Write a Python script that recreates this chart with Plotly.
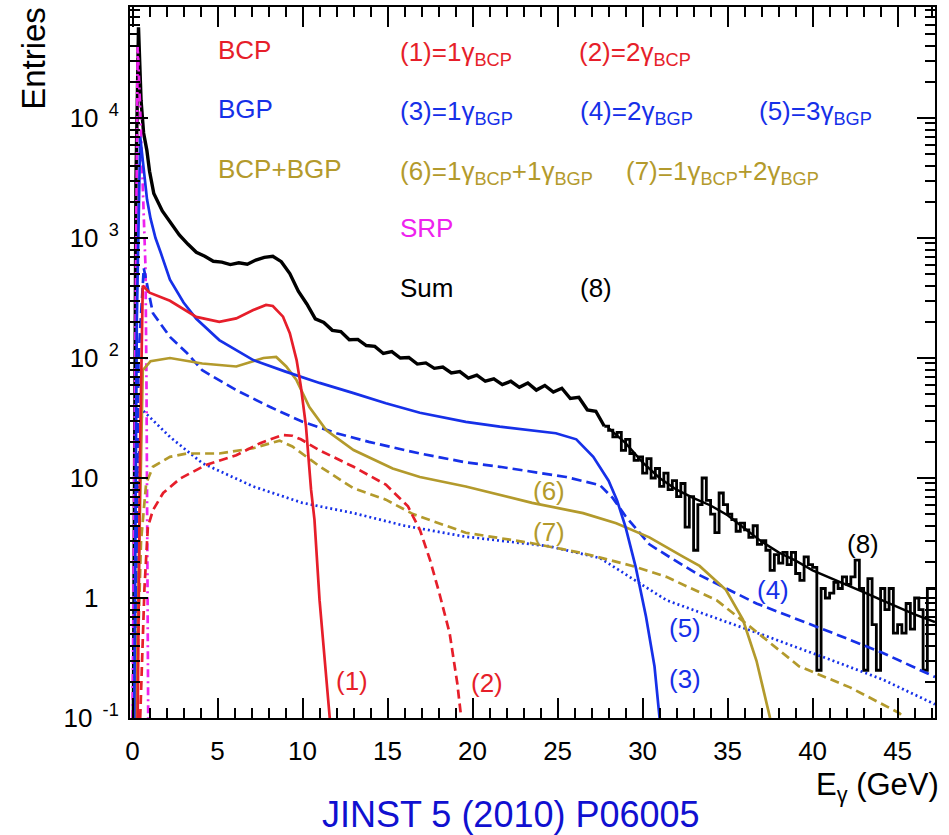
import plotly.graph_objects as go

# ---------------- data ----------------
bcp1_x = [0.3, 0.45, 0.6, 1.0, 2.2, 3.75, 5.1, 6.1, 7.1, 7.85, 8.25, 8.85, 9.25, 9.65, 9.9, 10.2, 10.5, 10.7, 11.0, 11.6]
bcp1_y = [0.1, 20, 400, 350, 300, 220, 200, 214, 251, 277, 271, 221, 161, 96, 58, 27, 8.0, 4.5, 0.96, 0.1]

bcp2_x = [0.45, 0.7, 0.9, 1.2, 1.8, 2.8, 4.3, 6.1, 7.5, 8.8, 9.4, 9.9, 11.0, 13.0, 14.9, 16.2, 16.9, 17.5, 18.05, 18.65, 19.1, 19.3]
bcp2_y = [0.1, 1.2, 3.9, 5.4, 7.5, 9.9, 12.8, 15.5, 19.5, 22.8, 22.5, 21, 17, 12.4, 8.8, 5.8, 3.7, 2.07, 1.09, 0.51, 0.195, 0.11]

bgp1_x = [0.1, 0.25, 0.45, 0.64, 0.85, 1.06, 1.35, 1.65, 2.2, 3.0, 3.75, 5.1, 7.1, 9.0, 11.0, 13.0, 14.9, 16.9, 19.6, 21.6, 24.9, 26.1, 27.1, 28.0, 28.5, 29.0, 29.6, 30.2, 30.7, 31.0]
bgp1_y = [0.1, 200, 7000, 3900, 2100, 1450, 1000, 760, 450, 290, 212, 141, 96, 77, 62, 51, 42, 35, 29.4, 26.8, 23.6, 21, 15, 9.5, 6.5, 3.9, 1.8, 0.7, 0.27, 0.1]

bgp2_x = [0.15, 0.35, 0.66, 1.2, 2.2, 3.2, 4.1, 6.1, 8.1, 10.0, 12.0, 13.9, 16.9, 19.6, 21.6, 25.5, 27.5, 28.25, 29.0, 30.4, 31.8, 33.35, 36.7, 39.2, 41.2, 44.1, 47.2]
bgp2_y = [0.1, 100, 560, 236, 150, 110, 79, 54, 39, 29.4, 23.6, 20, 16, 13.5, 12.4, 10.2, 8.7, 6.8, 4.8, 2.8, 2.1, 1.55, 0.9, 0.66, 0.51, 0.35, 0.22]

bgp3_x = [0.1, 0.3, 0.57, 2.2, 4.1, 7.1, 10.0, 13.0, 16.0, 19.6, 24.5, 27.5, 29.4, 31.4, 33.35, 37.3, 41.2, 44.1, 47.2]
bgp3_y = [0.1, 10, 37, 22, 13.3, 8.5, 6.2, 5.1, 4.0, 3.24, 2.7, 2.15, 1.45, 0.96, 0.76, 0.48, 0.30, 0.21, 0.13]

mix6_x = [0.2, 0.45, 0.6, 1.06, 2.2, 4.1, 6.1, 7.7, 8.45, 9.04, 9.63, 10.4, 11.4, 13.0, 15.3, 16.9, 19.6, 23.5, 26.5, 28.45, 30.4, 32.4, 33.35, 34.9, 35.9, 36.7, 37.5]
mix6_y = [0.1, 10, 79, 94, 100, 90, 85, 100, 102, 85, 66, 39, 25, 17.1, 12, 10.2, 8.5, 6.2, 5.1, 4.2, 3.2, 2.2, 1.85, 1.17, 0.66, 0.30, 0.1]

mix7_x = [0.2, 0.5, 0.8, 1.2, 2.2, 3.2, 5.1, 7.1, 8.65, 9.4, 11.0, 13.0, 14.9, 16.5, 19.6, 23.5, 26.5, 29.4, 31.4, 34.35, 36.3, 39.2, 42.2, 45.1, 45.4]
mix7_y = [0.1, 3, 9, 12.4, 15, 16, 16, 17.7, 20.5, 18.3, 12.5, 8.2, 6.6, 5.0, 3.5, 2.86, 2.36, 1.85, 1.5, 0.96, 0.58, 0.27, 0.18, 0.11, 0.1]

srp_x = [0.0, 0.15, 0.3, 0.43, 0.57, 0.66, 0.76, 0.82, 0.87, 0.92]
srp_y = [0.1, 100, 40000, 14000, 3900, 1500, 580, 60, 2, 0.1]

# Sum histogram ("Sum", (8))
sum_low_x = [0.05, 0.2, 0.35, 0.5, 0.65, 0.84, 1.0]     # sharp peak near 0
sum_low_vals = [0.1, 3000, 57000, 14000, 7500, 5400, 3600]
sum_mid_x = [1.25 + 0.5 * i for i in range(54)]      # 1.25 ... 27.75
sum_mid_vals = [2350, 1680, 1330, 1060, 890, 760, 705, 640, 630, 600, 622, 605, 655, 690, 705, 635,
                505, 360, 282, 212, 198, 170, 166, 142, 143, 127, 125, 109, 113, 100, 101, 89,
                91, 82, 84, 75, 77, 68, 72, 64, 67, 60, 64, 57, 62, 54, 59, 52,
                56, 46, 47, 37, 36, 27]
sum_high_edges = [28.0 + 0.25 * i for i in range(77)]  # 28.0 ... 47.0
sum_high_vals = [25, 22, 24, 17, 21, 16, 14, 15, 11, 14.5, 10, 12, 8.5, 11, 8, 9.5,
                 7, 9, 3.9, 7, 2.5, 6, 10, 6.5, 5, 3.5, 7.5, 6, 5, 4.5, 3.6, 4.2,
                 3.7, 3.2, 4, 2.8, 3, 2.5, 1.7, 2.3, 1.95, 2.4, 1.9, 2.4, 1.6, 1.4, 2.2, 1.9,
                 1.8, 0.25, 1.2, 1.0, 1.1, 1.35, 1.2, 1.5, 1.3, 1.5, 2.07, 1.2, 0.25, 1.45, 0.6, 0.25,
                 1.2, 0.8, 1.2, 0.51, 0.6, 0.51, 0.9, 0.55, 1.0, 0.8, 0.25, 1.2, 1.2]

fit_x = [28, 29, 30, 31, 32, 33, 34, 35, 36, 37, 38, 39, 40, 41, 42, 43, 44, 45, 46, 47.2]
fit_y = [26, 19.5, 13.5, 10, 8, 6.8, 5.9, 4.9, 3.8, 2.95, 2.4, 2.05, 1.7, 1.48, 1.3, 1.12, 0.97, 0.84, 0.73, 0.63]

y_tickvals = [0.1, 1, 10, 100, 1000, 10000]
NB = "\u00a0"
y_ticktext = ["10<sup>" + NB * 2 + "-1</sup>", "1<sup>" + NB * 4 + "</sup>", "10<sup>" + NB * 4 + "</sup>",
              "10<sup>" + NB * 2 + "2</sup>", "10<sup>" + NB * 2 + "3</sup>", "10<sup>" + NB * 2 + "4</sup>"]

# ---------------- style ----------------
FONT = "Liberation Sans, Arial, Helvetica, sans-serif"
RED = "#e61e2a"
BLUE = "#1630e8"
OLIVE = "#b39a2c"
MAGENTA = "#ee22ee"
BLACK = "#000000"

W, H = 949, 835
L, R, T, B = 130, 14, 5, 117
PW, PH = W - L - R, H - T - B


def px(xp):
    return (xp - L) / PW


def py(yp):
    return (H - B - yp) / PH


fig = go.Figure()

# Sum histogram: sharp low peak and dense middle drawn as a thick jagged line, high-energy bins as steps
mx = sum_low_x + sum_mid_x
my = sum_low_vals + sum_mid_vals
fig.add_trace(go.Scatter(x=mx, y=my, mode="lines", line=dict(color=BLACK, width=3.4), hoverinfo="skip"))
hx = [sum_mid_x[-1]] + sum_high_edges + [sum_high_edges[-1] + 0.25]
hy = [sum_mid_vals[-1]] + sum_high_vals + [sum_high_vals[-1]]
fig.add_trace(go.Scatter(x=hx, y=hy, mode="lines", line=dict(color=BLACK, width=2.8, shape="hv"), hoverinfo="skip"))
fig.add_trace(go.Scatter(x=fit_x, y=fit_y, mode="lines", line=dict(color=BLACK, width=2.4)))

curves = [
    (srp_x, srp_y, MAGENTA, "8px,4px,2px,4px"),
    (bgp3_x, bgp3_y, BLUE, "2px,3px"),
    (mix7_x, mix7_y, OLIVE, "9px,5px"),
    (bcp2_x, bcp2_y, RED, "9px,5px"),
    (bgp2_x, bgp2_y, BLUE, "10px,5px"),
    (mix6_x, mix6_y, OLIVE, "solid"),
    (bgp1_x, bgp1_y, BLUE, "solid"),
    (bcp1_x, bcp1_y, RED, "solid"),
]
for cx, cy, col, dash in curves:
    fig.add_trace(go.Scatter(x=cx, y=cy, mode="lines", line=dict(color=col, width=2.7, dash=dash)))

ann = []


def text(t, xp, yp, color, size=26, xanchor="left", **kw):
    ann.append(dict(text=t, x=px(xp), y=py(yp), xref="paper", yref="paper", showarrow=False,
                    xanchor=xanchor, yanchor="middle", font=dict(family=FONT, size=size, color=color), **kw))


text("BCP", 216, 48, RED)
text("BGP", 216, 107, BLUE)
text("BCP+BGP", 216, 167, OLIVE)
text("(1)=1γ<sub>BCP</sub>", 398, 52, RED)
text("(2)=2γ<sub>BCP</sub>", 577, 52, RED)
text("(3)=1γ<sub>BGP</sub>", 398, 111, BLUE)
text("(4)=2γ<sub>BGP</sub>", 578, 111, BLUE)
text("(5)=3γ<sub>BGP</sub>", 757, 111, BLUE)
text("(6)=1γ<sub>BCP</sub>+1γ<sub>BGP</sub>", 398, 171, OLIVE)
text("(7)=1γ<sub>BCP</sub>+2γ<sub>BGP</sub>", 624, 171, OLIVE)
text("SRP", 398, 227, MAGENTA)
text("Sum", 398, 287, BLACK)
text("(8)", 578, 287, BLACK)

text("(1)", 352, 681, RED, xanchor="center")
text("(2)", 487, 683, RED, xanchor="center")
text("(3)", 685, 679, BLUE, xanchor="center")
text("(4)", 773, 590, BLUE, xanchor="center")
text("(5)", 685, 628, BLUE, xanchor="center")
text("(6)", 549, 490, OLIVE, xanchor="center")
text("(7)", 549, 531, OLIVE, xanchor="center")
text("(8)", 863, 544, BLACK, xanchor="center")

text("Entries", 34, 57, BLACK, size=33, xanchor="center", textangle=-90)
text("E<sub>γ</sub> (GeV)", 941, 787, BLACK, size=31, xanchor="right")
text("JINST 5 (2010) P06005", 511, 815, "#1010d0", size=36, xanchor="center")

minor_y = [m * 10 ** e for e in range(-1, 5) for m in range(2, 10)]

fig.update_layout(
    width=W, height=H,
    margin=dict(l=L, r=R, t=T, b=B, pad=0),
    paper_bgcolor="white", plot_bgcolor="white",
    annotations=ann,
    showlegend=False,
    xaxis=dict(range=[-0.15, 47.2], showgrid=False, zeroline=False,
               showline=True, linecolor="black", linewidth=2, mirror="ticks",
               ticks="inside", ticklen=20, tickwidth=1.5, tickcolor="black",
               tickmode="linear", tick0=0, dtick=5,
               minor=dict(ticks="inside", ticklen=10, tickwidth=1.5, tickcolor="black", dtick=1, showgrid=False),
               tickfont=dict(family=FONT, size=26, color="black"), ticklabelstandoff=9),
    yaxis=dict(type="log", range=[-1, 4.925], showgrid=False, zeroline=False,
               showline=True, linecolor="black", linewidth=2, mirror="ticks",
               ticks="inside", ticklen=18, tickwidth=1.5, tickcolor="black",
               tickmode="array", tickvals=y_tickvals, ticktext=y_ticktext,
               minor=dict(ticks="inside", ticklen=10, tickwidth=1.5, tickcolor="black",
                          tickmode="array", tickvals=minor_y, showgrid=False),
               tickfont=dict(family=FONT, size=26, color="black"), ticklabelstandoff=4),
)

fig.write_html("out.html", config={"displayModeBar": False},
               post_script="document.body.style.margin='0';document.body.style.overflow='hidden';")
